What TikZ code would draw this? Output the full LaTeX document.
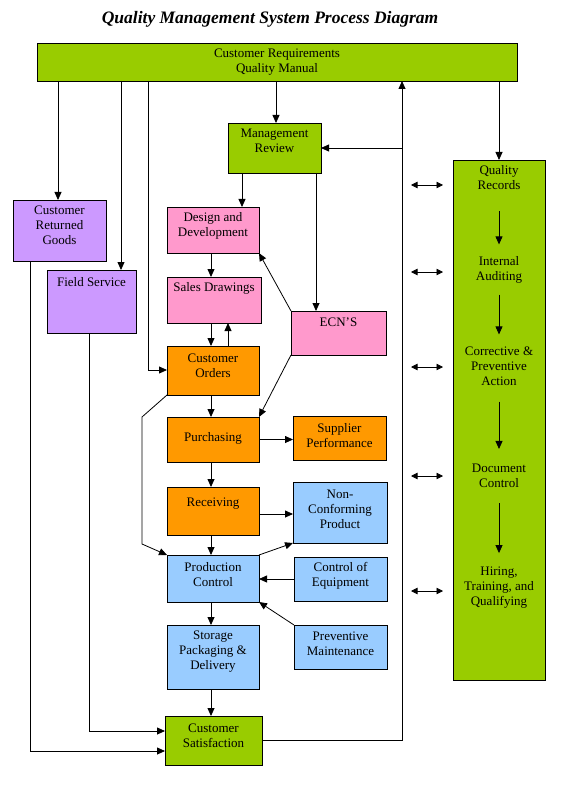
\documentclass[tikz,border=0pt]{standalone}
\usepackage{fontspec}
\setmainfont{Liberation Serif}
\usetikzlibrary{arrows.meta}

\definecolor{qgreen}{HTML}{99CC00}
\definecolor{qpink}{HTML}{FF99CC}
\definecolor{qlilac}{HTML}{CC99FF}
\definecolor{qorange}{HTML}{FF9900}
\definecolor{qblue}{HTML}{99CCFF}

\tikzset{
  box/.style={draw=black, line width=0.8pt, anchor=north west, align=center,
    inner sep=0pt, outer sep=0pt, font=\fontsize{13}{15}\selectfont},
  lbl/.style={inner sep=0pt, align=center, font=\fontsize{13}{15}\selectfont},
  arr/.style={line width=0.8pt, -{Triangle[length=8pt,width=7pt]}},
  darr/.style={line width=0.8pt, {Triangle[length=6.5pt,width=6.5pt]}-{Triangle[length=6.5pt,width=6.5pt]}}
}

\begin{document}
\begin{tikzpicture}[x=1pt,y=-1pt]
  \useasboundingbox (0,0) rectangle (570,802);
  \node[font=\fontsize{17.5}{20}\selectfont\bfseries\itshape] (title) at (270,19.5) {Quality Management System Process Diagram};

  \node[box, fill=qgreen, minimum width=480, minimum height=38] (cr) at (37,43) {Customer Requirements\\Quality Manual};
  \node[box, fill=qgreen, minimum width=93, minimum height=50, text depth=14pt] (mr) at (228,123) {Management\\Review};
  \node[box, fill=qlilac, minimum width=93, minimum height=61, text depth=10pt] (crg) at (13,200) {Customer\\Returned\\Goods};
  \node[box, fill=qlilac, minimum width=89, minimum height=63, text depth=39pt] (fs) at (47,270) {Field Service};
  \node[box, fill=qpink, minimum width=92, minimum height=46, text depth=11pt] (dd) at (167,207) {Design and\\Development};
  \node[box, fill=qpink, minimum width=94, minimum height=46, text depth=27pt] (sd) at (167,277) {Sales Drawings};
  \node[box, fill=qpink, minimum width=95, minimum height=44, text depth=22pt] (ecn) at (291,311) {ECN’S};
  \node[box, fill=qorange, minimum width=92, minimum height=49, text depth=10pt] (co) at (167,346) {Customer\\Orders};
  \node[box, fill=qorange, minimum width=92, minimum height=45, text depth=6pt] (pu) at (167,417) {Purchasing};
  \node[box, fill=qorange, minimum width=93, minimum height=44, text depth=5pt] (sp) at (293,416) {Supplier\\Performance};
  \node[box, fill=qorange, minimum width=92, minimum height=48, text depth=17pt] (re) at (167,487) {Receiving};
  \node[box, fill=qblue, minimum width=94, minimum height=61, text depth=7pt] (nc) at (293,482) {Non-\\Conforming\\Product};
  \node[box, fill=qblue, minimum width=92, minimum height=47, text depth=9pt] (pc) at (167,555) {Production\\Control};
  \node[box, fill=qblue, minimum width=93, minimum height=44, text depth=9pt] (ce) at (294,557) {Control of\\Equipment};
  \node[box, fill=qblue, minimum width=93, minimum height=44, text depth=6pt] (pm) at (294,625) {Preventive\\Maintenance};
  \node[box, fill=qblue, minimum width=92, minimum height=64, text depth=13pt] (spd) at (167,625) {Storage\\Packaging \&\\Delivery};
  \node[box, fill=qgreen, minimum width=97, minimum height=49, text depth=10pt] (cs) at (165,716) {Customer\\Satisfaction};

  \node[box, fill=qgreen, minimum width=92, minimum height=520] (qcol) at (453,160) {};
  \node[lbl] (qrec) at (499,178) {Quality\\Records};
  \node[lbl] (ia) at (499,270) {Internal\\Auditing};
  \node[lbl] (cpa) at (499,366) {Corrective \&\\Preventive\\Action};
  \node[lbl] (dc) at (499,476) {Document\\Control};
  \node[lbl] (htq) at (499,588) {Hiring,\\Training, and\\Qualifying};

  \coordinate (xcrg) at (58,0);
  \coordinate (xfs) at (121,0);
  \coordinate (xco) at (148,0);
  \coordinate (xmr) at (276,0);
  \coordinate (xdd) at (242,0);
  \coordinate (xecn) at (316,0);
  \coordinate (xmain) at (211,0);
  \coordinate (xup) at (228,0);
  \coordinate (xret) at (402,0);
  \coordinate (xfsd) at (89,0);
  \coordinate (xcrgd) at (30,0);
  \coordinate (yco) at (0,370);
  \coordinate (yrn) at (0,514);
  \coordinate (yfs) at (0,731);
  \coordinate (ycrg) at (0,751);
  \coordinate (lp1) at (142,417);
  \coordinate (lp2) at (142,544);

  \draw[arr] (xcrg |- cr.south) -- (xcrg |- crg.north);
  \draw[arr] (xfs |- cr.south) -- (xfs |- fs.north);
  \draw[arr] (xco |- cr.south) -- (xco |- yco) -- (co.west |- yco);
  \draw[arr] (xmr |- cr.south) -- (xmr |- mr.north);
  \draw[arr] (qcol.north |- cr.south) -- (qcol.north);
  \draw[arr] (xdd |- mr.south) -- (xdd |- dd.north);
  \draw[arr] (xecn |- mr.south) -- (xecn |- ecn.north);
  \draw[arr] (ecn.north west) -- (dd.south east);
  \draw[arr] (ecn.south west) -- (pu.north east);
  \foreach \a/\b in {dd/sd, sd/co, co/pu, pu/re, re/pc, pc/spd, spd/cs}
    \draw[arr] (xmain |- \a.south) -- (xmain |- \b.north);
  \draw[arr] (xup |- co.north) -- (xup |- sd.south);
  \draw[arr] (pu.east) -- (pu.east -| sp.west);
  \draw[arr] (re.east |- yrn) -- (nc.west |- yrn);
  \draw[arr] (pc.north east) -- (nc.south west);
  \draw[arr] (ce.west) -- (ce.west -| pc.east);
  \draw[arr] (pm.north west) -- (pc.south east);
  \draw[arr] (co.south west) -- (lp1) -- (lp2) -- (pc.north west);
  \draw[arr] (xfsd |- fs.south) -- (xfsd |- yfs) -- (cs.west |- yfs);
  \draw[arr] (xcrgd |- crg.south) -- (xcrgd |- ycrg) -- (cs.west |- ycrg);
  \draw[arr] (cs.east) -- (xret |- cs.east) -- (xret |- cr.south);
  \draw[arr] (xret |- mr.east) -- (mr.east);

  \draw[arr, shorten <=21pt, shorten >=12pt] (qrec) -- (ia);
  \draw[arr, shorten <=11pt, shorten >=12pt] (ia) -- (cpa);
  \draw[arr, shorten <=16pt, shorten >=15pt] (cpa) -- (dc);
  \draw[arr, shorten <=15pt, shorten >=14pt] (dc) -- (htq);
  \foreach \y in {185,272,367,476,591}
    \draw[darr] (411,\y) -- (443,\y);
\end{tikzpicture}
\end{document}
